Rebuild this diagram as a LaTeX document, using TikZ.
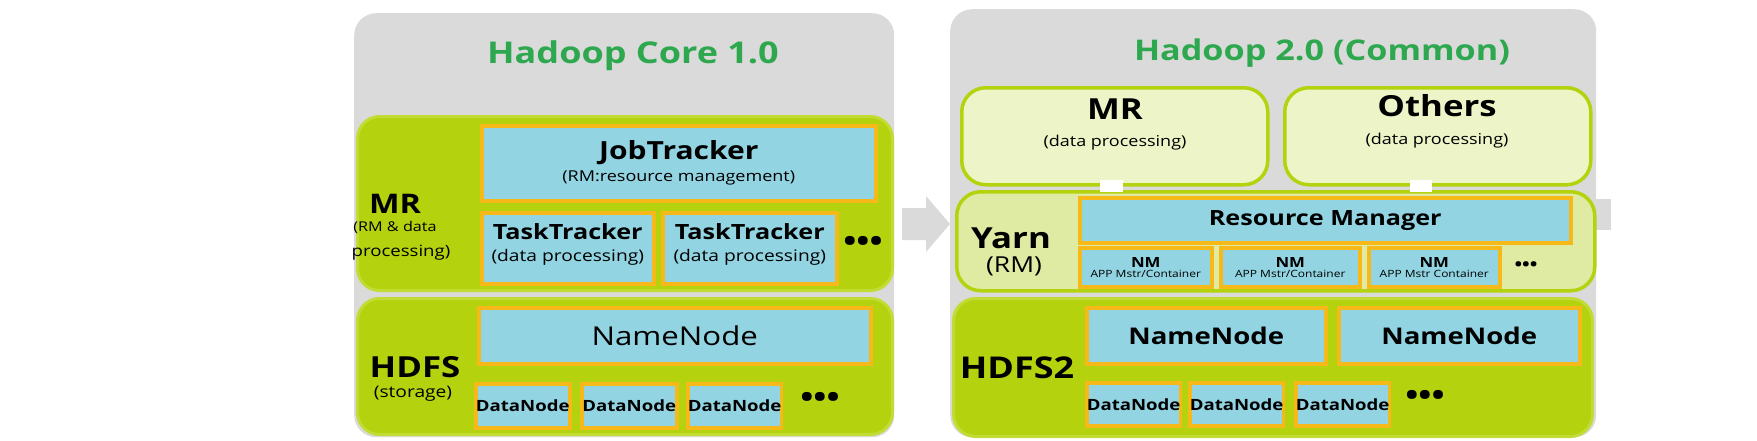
\documentclass[tikz,border=0pt]{standalone}
\usepackage{fontspec}
\setmainfont{Open Sans}[FakeStretch=1.2]
\usetikzlibrary{calc}

\definecolor{panelgray}{HTML}{DADADA}
\definecolor{limegreen}{HTML}{B5D20F}
\definecolor{limeedge}{HTML}{C3DC35}
\definecolor{palegreen}{HTML}{EDF5C8}
\definecolor{yarngreen}{HTML}{DFEAA2}
\definecolor{boxblue}{HTML}{92D4E2}
\definecolor{boxorange}{HTML}{F7B81A}
\definecolor{titlegreen}{HTML}{2EA84F}
\newcommand\fsz[1]{\fontsize{#1}{#1}\selectfont}

\begin{document}
\begin{tikzpicture}[x=1pt,y=-1pt,
  panel/.style={fill=panelgray,rounded corners=22,anchor=north west,inner sep=0},
  layer/.style={fill=limegreen,draw=limeedge,line width=3,rounded corners=22,anchor=north west,inner sep=0},
  applayer/.style={fill=palegreen,draw=limegreen,line width=3.5,rounded corners=24,anchor=north west,inner sep=0},
  bluebox/.style={fill=boxblue,draw=boxorange,line width=3.5,anchor=north west,inner sep=0,align=center}]
  \useasboundingbox (0,0) rectangle (1757,440);

  % Hadoop 1.0
  \node[panel,minimum width=540,minimum height=424] (core1) at (354,13) {};
  \node[font=\bfseries\fsz{30},text=titlegreen] (title1) at (633,56) {Hadoop Core 1.0};
  \node[layer,minimum width=535,minimum height=174] (mr1) at (356,115) {};
  \node[layer,minimum width=535,minimum height=136] (hdfs1) at (356,297) {};

  \node[bluebox,minimum width=394,minimum height=75] (jt) at (480,124)
    {{\bfseries\fsz{25}JobTracker}\\[5pt]{\fsz{15}(RM:resource management)}};
  \node[bluebox,minimum width=172,minimum height=71] (tt1) at (480,211)
    {{\bfseries\fsz{21}TaskTracker}\\[9pt]{\fsz{16}(data processing)\rule[-12pt]{0pt}{0pt}}};
  \node[bluebox,minimum width=174,minimum height=71] (tt2) at (661,211)
    {{\bfseries\fsz{21}TaskTracker}\\[9pt]{\fsz{16}(data processing)\rule[-12pt]{0pt}{0pt}}};
  \node[font=\bfseries\fsz{29}] (ttdots) at (863,244) {•••};

  \node[font=\bfseries\fsz{27}] (mrlab1) at (395,204) {MR};
  \node[font=\fsz{13.5}] (mrsub1) at (395,227) {(RM \& data};
  \node[font=\fsz{15.5}] (mrsub2) at (401,253) {processing)};

  \node[bluebox,minimum width=392,minimum height=56,font=\fsz{26}] (nn1) at (477,306) {NameNode};
  \foreach \x/\w [count=\i] in {474/94,580/95,686/93}{
    \node[bluebox,minimum width=\w,minimum height=44,font=\bfseries\fsz{15.5}] (dn1\i) at (\x,382) {DataNode};
  }
  \node[font=\bfseries\fsz{29}] (dndots1) at (820,400) {•••};
  \node[font=\bfseries\fsz{29}] (hdfslab1) at (415,367) {HDFS};
  \node[font=\fsz{16}] (hdfssub1) at (413,394) {(storage)};

  % arrows
  \fill[panelgray] (902,208) -- (926,208) -- (926,196) -- (950,224) -- (926,252) -- (926,240) -- (902,240) -- cycle;
  \fill[panelgray] (1596,199) rectangle (1611,230);

  % Hadoop 2.0
  \node[panel,minimum width=646,minimum height=428] (core2) at (950,9) {};
  \node[font=\bfseries\fsz{28.5},text=titlegreen] (title2) at (1322,53) {Hadoop 2.0 (Common)};

  \node[applayer,minimum width=306,minimum height=97] (mr2) at (960,86) {};
  \node[applayer,minimum width=306,minimum height=97] (others) at (1283,86) {};
  \node[font=\bfseries\fsz{29}] (mrlab2) at (1115,109) {MR};
  \node[font=\fsz{15}] (mrsub3) at (1115,143) {(data processing)};
  \node[font=\bfseries\fsz{29}] (otherslab) at (1437,106) {Others};
  \node[font=\fsz{15}] (otherssub) at (1437,141) {(data processing)};

  \node[applayer,fill=yarngreen,minimum width=638,minimum height=99] (yarn) at (955,190) {};
  \fill[white] (1100,180) rectangle (1123,192);
  \fill[white] (1410,180) rectangle (1432,192);

  \node[bluebox,minimum width=491,minimum height=45,font=\bfseries\fsz{21}] (rm) at (1078,196) {Resource Manager};
  \foreach \x/\w/\t [count=\i] in {1078/132/APP Mstr{/}Container,1219/139/APP Mstr{/}Container,1367/131/APP Mstr Container}{
    \node[bluebox,minimum width=\w,minimum height=39] (nm\i) at (\x,246)
      {{\bfseries\fsz{14}NM}\\[-2pt]{\fsz{10}\t}};
  }
  \node[font=\bfseries\fsz{17}] (nmdots) at (1526,266) {•••};
  \node[font=\bfseries\fsz{29}] (yarnlab) at (1011,238) {Yarn};
  \node[font=\fsz{22}] (yarnsub) at (1014,266) {(RM)};

  \node[layer,minimum width=639,minimum height=138] (hdfs2) at (952,297) {};
  \node[bluebox,minimum width=239,minimum height=56,font=\bfseries\fsz{23}] (nn2) at (1085,306) {NameNode};
  \node[bluebox,minimum width=241,minimum height=56,font=\bfseries\fsz{23}] (nn3) at (1337,306) {NameNode};
  \foreach \x/\w [count=\i] in {1085/86,1188/89,1294/88}{
    \node[bluebox,minimum width=\w,minimum height=43,font=\bfseries\fsz{15.5}] (dn2\i) at (\x,381) {DataNode};
  }
  \node[font=\bfseries\fsz{29}] (dndots2) at (1425,398) {•••};
  \node[font=\bfseries\fsz{30}] (hdfslab2) at (1017,368) {HDFS2};
\end{tikzpicture}
\end{document}
